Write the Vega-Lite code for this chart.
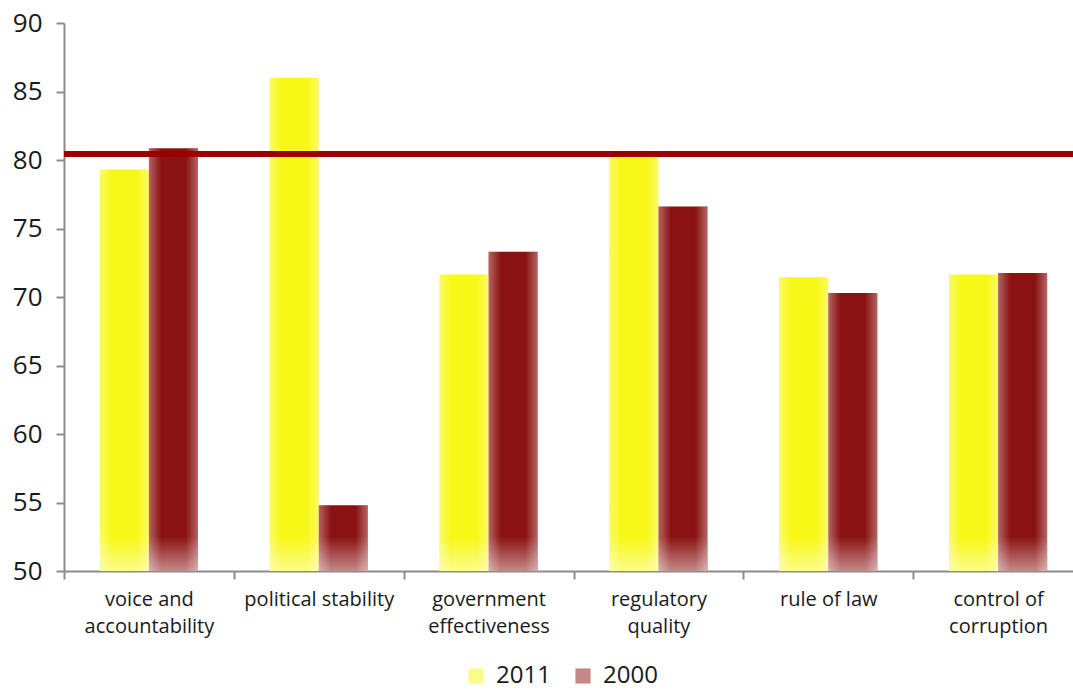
{
  "$schema": "https://vega.github.io/schema/vega-lite/v6.json",
  "autosize": {"type": "none"},
  "width": 1009,
  "height": 548,
  "padding": {"left": 64, "top": 23, "right": 0, "bottom": 120},
  "background": "white",
  "config": {
    "view": {"stroke": null},
    "font": "Open Sans",
    "axis": {"labelFont": "Open Sans", "labelColor": "#1a1a1a", "domainColor": "#8c8c8c", "tickColor": "#8c8c8c", "domainWidth": 2, "tickWidth": 2, "tickSize": 8, "grid": false, "title": null}
  },
  "data": {
    "values": [
      {"category": "voice and accountability", "year": "2011", "value": 79.3},
      {"category": "voice and accountability", "year": "2000", "value": 80.85},
      {"category": "political stability", "year": "2011", "value": 86.0},
      {"category": "political stability", "year": "2000", "value": 54.8},
      {"category": "government effectiveness", "year": "2011", "value": 71.65},
      {"category": "government effectiveness", "year": "2000", "value": 73.3},
      {"category": "regulatory quality", "year": "2011", "value": 80.2},
      {"category": "regulatory quality", "year": "2000", "value": 76.6},
      {"category": "rule of law", "year": "2011", "value": 71.45},
      {"category": "rule of law", "year": "2000", "value": 70.3},
      {"category": "control of corruption", "year": "2011", "value": 71.65},
      {"category": "control of corruption", "year": "2000", "value": 71.75}
    ]
  },
  "layer": [
    {
      "encoding": {
        "x": {
          "field": "category", "type": "nominal", "sort": null,
          "scale": {"paddingInner": 0, "paddingOuter": 0, "range": [0, 1019]},
          "axis": {
            "tickBand": "extent", "labelAngle": 0, "labelFontSize": 20, "labelPadding": 10, "labelLineHeight": 27, "labelLimit": 300,
            "labelExpr": "datum.label == 'voice and accountability' ? ['voice and', 'accountability'] : datum.label == 'government effectiveness' ? ['government', 'effectiveness'] : datum.label == 'regulatory quality' ? ['regulatory', 'quality'] : datum.label == 'control of corruption' ? ['control of', 'corruption'] : datum.label"
          }
        },
        "xOffset": {"field": "year", "type": "nominal", "sort": ["2011", "2000"], "scale": {"paddingInner": 0, "paddingOuter": 0.73}}
      },
      "layer": [
        {
          "mark": {"type": "bar"},
          "encoding": {
            "y": {"field": "value", "type": "quantitative", "scale": {"domain": [50, 90], "nice": false, "zero": false}, "axis": {"values": [50, 55, 60, 65, 70, 75, 80, 85, 90], "labelFontSize": 26, "labelPadding": 14}},
            "y2": {"datum": 50},
            "color": {
              "field": "year", "type": "nominal",
              "scale": {"domain": ["2011", "2000"], "range": ["#f8f816", "#8b1212"]},
              "legend": {"title": null, "orient": "none", "direction": "horizontal", "legendX": 400, "legendY": 641, "symbolType": "square", "symbolSize": 230, "symbolOpacity": 0.5, "symbolStrokeWidth": 0, "labelFontSize": 24, "labelColor": "#1a1a1a", "labelFont": "Open Sans", "labelOffset": 8, "columnPadding": 20}
            }
          }
        },
        {
          "mark": {"type": "bar", "color": {"gradient": "linear", "x1": 0, "x2": 1, "y1": 0, "y2": 0, "stops": [
            {"offset": 0, "color": "rgba(255,255,255,0.35)"},
            {"offset": 0.25, "color": "rgba(255,255,255,0)"},
            {"offset": 0.75, "color": "rgba(255,255,255,0)"},
            {"offset": 1, "color": "rgba(255,255,255,0.35)"}
          ]}},
          "encoding": {
            "y": {"field": "value", "type": "quantitative"},
            "y2": {"datum": 50}
          }
        },
        {
          "mark": {"type": "bar", "color": {"gradient": "linear", "x1": 0, "x2": 0, "y1": 0, "y2": 1, "stops": [
            {"offset": 0, "color": "rgba(255,255,255,0)"},
            {"offset": 1, "color": "rgba(255,255,255,0.5)"}
          ]}},
          "encoding": {
            "y": {"datum": 52.5, "type": "quantitative"},
            "y2": {"datum": 50}
          }
        }
      ]
    },
    {
      "mark": {"type": "rule", "color": "#9b0000", "strokeWidth": 5},
      "encoding": {"y": {"datum": 80.45, "type": "quantitative"}}
    }
  ]
}
